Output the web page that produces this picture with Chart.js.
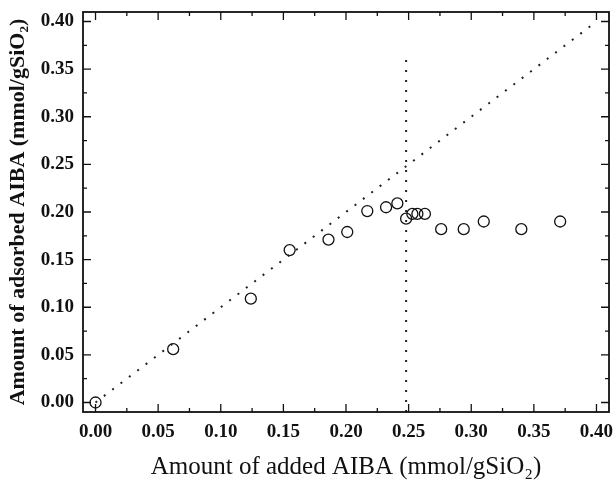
<!DOCTYPE html>
<html>
<head>
<meta charset="utf-8">
<script src="https://cdn.jsdelivr.net/npm/chart.js@4"></script>
<style>
  body { margin: 0; background: #fff; }
  #wrap { width: 616px; height: 486px; }
</style>
</head>
<body>
<div id="wrap"><canvas id="chart"></canvas></div>
<script>
// added AIBA (x) vs adsorbed AIBA (y), mmol/gSiO2
const addedAIBA = [0.000, 0.062, 0.124, 0.155, 0.186, 0.201, 0.217, 0.232, 0.241, 0.248, 0.253, 0.257, 0.263, 0.276, 0.294, 0.310, 0.340, 0.371];
const adsorbedAIBA = [0.000, 0.056, 0.109, 0.160, 0.171, 0.179, 0.201, 0.205, 0.209, 0.193, 0.198, 0.198, 0.198, 0.182, 0.182, 0.190, 0.182, 0.190];

// reference lines
const diagX = [0, 0.40];
const diagY = [0, 0.40];
const vlineX = [0.248, 0.248];
const vlineY = [-0.01, 0.365];

const tickValues = [0, 0.05, 0.10, 0.15, 0.20, 0.25, 0.30, 0.35, 0.40];
const minorValues = [0.025, 0.075, 0.125, 0.175, 0.225, 0.275, 0.325, 0.375];

const toPts = (xs, ys) => xs.map((x, i) => ({ x: x, y: ys[i] }));

// frame + inward ticks on all four sides
const framePlugin = {
    id: 'frame',
    afterDraw(chart) {
        const { ctx, chartArea: a, scales } = chart;
        ctx.save();
        ctx.strokeStyle = '#111';
        ctx.lineWidth = 1.8;
        ctx.strokeRect(a.left, a.top, a.right - a.left, a.bottom - a.top);
        ctx.lineWidth = 1.3;
        const draw = (vals, len) => {
            vals.forEach(v => {
                const px = scales.x.getPixelForValue(v);
                const py = scales.y.getPixelForValue(v);
                ctx.beginPath();
                ctx.moveTo(px, a.bottom); ctx.lineTo(px, a.bottom - len);
                ctx.moveTo(px, a.top); ctx.lineTo(px, a.top + len);
                ctx.moveTo(a.left, py); ctx.lineTo(a.left + len, py);
                ctx.moveTo(a.right, py); ctx.lineTo(a.right - len, py);
                ctx.stroke();
            });
        };
        draw(tickValues, 8);
        draw(minorValues, 4);
        ctx.restore();
    }
};

const tickFont = { family: 'Liberation Serif', size: 19, weight: 'bold' };

new Chart(document.getElementById('chart'), {
    type: 'scatter',
    data: {
        datasets: [
            {
                data: toPts(diagX, diagY),
                showLine: true,
                borderColor: '#222',
                borderWidth: 2,
                borderDash: [2, 8.5],
                pointRadius: 0
            },
            {
                data: toPts(vlineX, vlineY),
                showLine: true,
                borderColor: '#222',
                borderWidth: 2,
                borderDash: [2, 8],
                pointRadius: 0
            },
            {
                data: toPts(addedAIBA, adsorbedAIBA),
                pointStyle: 'circle',
                pointRadius: 5.5,
                pointBorderWidth: 1.3,
                pointBorderColor: '#111',
                pointBackgroundColor: 'rgba(255,255,255,0)'
            }
        ]
    },
    options: {
        responsive: true,
        maintainAspectRatio: false,
        animation: false,
        layout: { padding: { left: 0, right: 7, top: 12, bottom: 0 } },
        plugins: { legend: { display: false }, tooltip: { enabled: false } },
        scales: {
            x: {
                type: 'linear',
                min: -0.01,
                max: 0.41,
                afterBuildTicks: s => { s.ticks = tickValues.map(v => ({ value: v })); },
                afterFit: s => { s.height = 74; s.paddingLeft = 0; s.paddingRight = 0; },
                grid: { display: false, drawTicks: false },
                border: { display: false },
                ticks: {
                    color: '#111',
                    padding: 9,
                    font: tickFont,
                    callback: v => v.toFixed(2)
                },
                title: {
                    display: true,
                    text: 'Amount of added AIBA (mmol/gSiO₂)',
                    color: '#111',
                    padding: { top: 7 },
                    font: { family: 'Liberation Serif', size: 25 }
                }
            },
            y: {
                type: 'linear',
                min: -0.01,
                max: 0.41,
                afterBuildTicks: s => { s.ticks = tickValues.map(v => ({ value: v })); },
                afterFit: s => { s.width = 83; s.paddingTop = 0; s.paddingBottom = 0; },
                grid: { display: false, drawTicks: false },
                border: { display: false },
                ticks: {
                    color: '#111',
                    padding: 9,
                    font: tickFont,
                    callback: v => v.toFixed(2)
                },
                title: {
                    display: true,
                    text: 'Amount of adsorbed AIBA (mmol/gSiO₂)',
                    color: '#111',
                    padding: { top: 5 },
                    font: { family: 'Liberation Serif', size: 22, weight: 'bold' }
                }
            }
        }
    },
    plugins: [framePlugin]
});
</script>
</body>
</html>
